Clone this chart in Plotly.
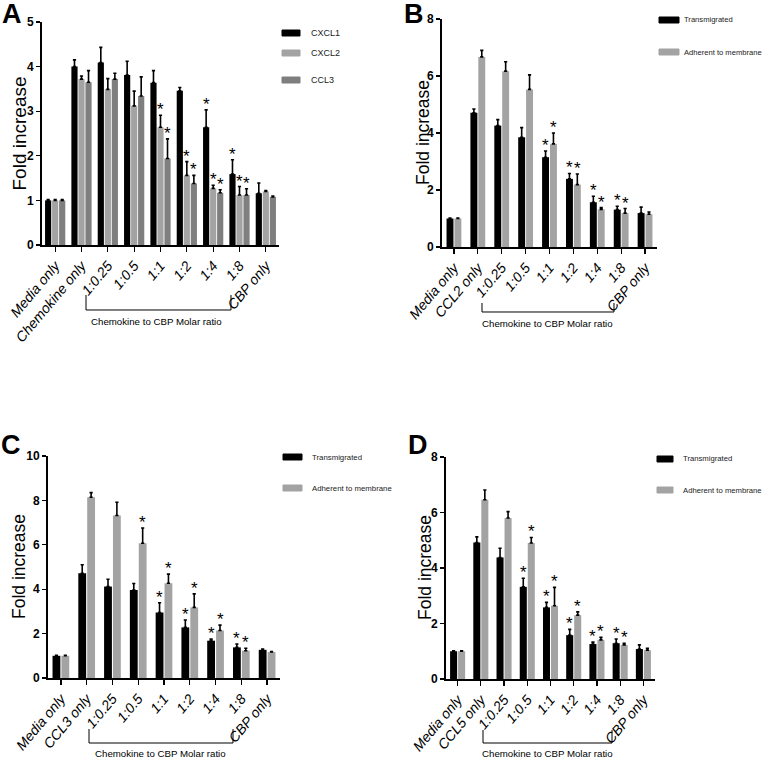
import plotly.graph_objects as go

W, H = 763, 759

# ---------------- data ----------------
ratios = ["1:0.25", "1:0.5", "1:1", "1:2", "1:4", "1:8"]
cats_A = ["Media only", "Chemokine only"] + ratios + ["CBP only"]
cats_B = ["Media only", "CCL2 only"] + ratios + ["CBP only"]
cats_C = ["Media only", "CCL3 only"] + ratios + ["CBP only"]
cats_D = ["Media only", "CCL5 only"] + ratios + ["CBP only"]

A_cxcl1 = [1.0, 4.00, 4.09, 3.81, 3.64, 3.46, 2.64, 1.59, 1.16]
A_cxcl1_err = [0.02, 0.15, 0.34, 0.31, 0.27, 0.07, 0.39, 0.32, 0.23]
A_cxcl1_sig = [0, 0, 0, 0, 0, 0, 1, 1, 0]
A_cxcl2 = [1.0, 3.72, 3.49, 3.12, 2.64, 1.56, 1.27, 1.12, 1.20]
A_cxcl2_err = [0.02, 0.07, 0.24, 0.33, 0.27, 0.31, 0.07, 0.19, 0.02]
A_cxcl2_sig = [0, 0, 0, 0, 1, 1, 1, 1, 0]
A_ccl3 = [1.0, 3.65, 3.72, 3.34, 1.94, 1.38, 1.17, 1.12, 1.08]
A_ccl3_err = [0.02, 0.26, 0.13, 0.43, 0.44, 0.18, 0.07, 0.14, 0.02]
A_ccl3_sig = [0, 0, 0, 0, 1, 1, 1, 1, 0]

B_trans = [1.0, 4.71, 4.26, 3.85, 3.15, 2.39, 1.57, 1.31, 1.19]
B_trans_err = [0.02, 0.13, 0.21, 0.34, 0.22, 0.19, 0.21, 0.12, 0.21]
B_trans_sig = [0, 0, 0, 0, 1, 1, 1, 1, 0]
B_adh = [1.0, 6.67, 6.17, 5.53, 3.62, 2.19, 1.32, 1.19, 1.15]
B_adh_err = [0.02, 0.23, 0.33, 0.51, 0.38, 0.37, 0.06, 0.16, 0.08]
B_adh_sig = [0, 0, 0, 0, 1, 1, 1, 1, 0]

C_trans = [1.0, 4.72, 4.12, 3.96, 2.95, 2.28, 1.68, 1.38, 1.27]
C_trans_err = [0.02, 0.38, 0.33, 0.30, 0.44, 0.33, 0.07, 0.15, 0.03]
C_trans_sig = [0, 0, 0, 0, 1, 1, 1, 1, 0]
C_adh = [1.0, 8.14, 7.32, 6.07, 4.27, 3.18, 2.14, 1.23, 1.17]
C_adh_err = [0.02, 0.21, 0.60, 0.69, 0.41, 0.61, 0.24, 0.11, 0.02]
C_adh_sig = [0, 0, 0, 1, 1, 1, 1, 1, 0]

D_trans = [1.0, 4.92, 4.38, 3.32, 2.58, 1.58, 1.26, 1.29, 1.08]
D_trans_err = [0.02, 0.20, 0.33, 0.31, 0.18, 0.21, 0.07, 0.15, 0.15]
D_trans_sig = [0, 0, 0, 1, 1, 1, 1, 1, 0]
D_adh = [1.0, 6.46, 5.80, 4.90, 2.64, 2.30, 1.41, 1.23, 1.04]
D_adh_err = [0.02, 0.35, 0.23, 0.20, 0.66, 0.12, 0.09, 0.06, 0.07]
D_adh_sig = [0, 0, 0, 1, 1, 1, 1, 1, 0]

A_names = ["CXCL1", "CXCL2", "CCL3"]
pair_names = ["Transmigrated", "Adherent to membrane"]
bracket_label = "Chemokine to CBP Molar ratio"
y_title = "Fold increase"

# ---------------- styling ----------------
BLACK = "#000000"
GRAY2 = "#a3a3a3"
GRAY3 = "#7f7f7f"
SANS = "Liberation Sans, Arial, sans-serif"


def px_x(p):
    return p / W


def px_y(p):
    return 1 - p / H


fig = go.Figure()
annotations = []
shapes = []

panels = [
    dict(ax="", cats=cats_A, series=[(A_cxcl1, A_cxcl1_err, A_cxcl1_sig, BLACK),
                                     (A_cxcl2, A_cxcl2_err, A_cxcl2_sig, GRAY2),
                                     (A_ccl3, A_ccl3_err, A_ccl3_sig, GRAY3)],
         names=A_names, gap=0.2, x=(42, 279), y=(22, 245), yr=5, dt=1,
         letter=("A", 12, 14), ytitle=(19, 19), legsize=9,
         leg=[(282, 300, 33, 309), (282, 300, 53, 309), (282, 300, 80, 309)],
         bracket=(86, 231, 295, 310), blabel=(156, 321)),
    dict(ax="2", cats=cats_B, series=[(B_trans, B_trans_err, B_trans_sig, BLACK),
                                      (B_adh, B_adh_err, B_adh_sig, GRAY2)],
         names=pair_names, gap=0.34, x=(442, 657), y=(19, 247), yr=8, dt=2,
         letter=("B", 414, 14), ytitle=(423, 17.5), legsize=7.6,
         leg=[(659, 679, 20, 682), (659, 679, 52, 682)],
         bracket=(482, 614, 303, 312), blabel=(547, 323)),
    dict(ax="3", cats=cats_C, series=[(C_trans, C_trans_err, C_trans_sig, BLACK),
                                      (C_adh, C_adh_err, C_adh_sig, GRAY2)],
         names=pair_names, gap=0.31, x=(48, 280), y=(456, 678), yr=10, dt=2,
         letter=("C", 11, 445), ytitle=(19, 17.5), legsize=7.8,
         leg=[(283, 302, 457, 310), (283, 302, 488, 310)],
         bracket=(89, 233, 729, 743), blabel=(160, 753)),
    dict(ax="4", cats=cats_D, series=[(D_trans, D_trans_err, D_trans_sig, BLACK),
                                      (D_adh, D_adh_err, D_adh_sig, GRAY2)],
         names=pair_names, gap=0.31, x=(446, 655), y=(457, 679), yr=8, dt=2,
         letter=("D", 418, 445), ytitle=(425, 17.5), legsize=7.7,
         leg=[(657, 673, 459, 681), (657, 673, 490, 681)],
         bracket=(483, 612, 730, 743), blabel=(547, 753)),
]

layout_axes = {}
for p in panels:
    n = len(p["series"])
    G = 1 - p["gap"]
    slot = G / n
    w = slot * 0.88
    xa = "x" + p["ax"]
    ya = "y" + p["ax"]
    for k, (vals, errs, sig, col) in enumerate(p["series"]):
        off = -G / 2 + k * slot + (slot - w) / 2
        fig.add_trace(go.Bar(
            x=p["cats"], y=vals, xaxis=xa, yaxis=ya,
            width=w, offset=off, marker=dict(color=col, line=dict(width=0)),
            error_y=dict(type="data", symmetric=False, array=errs,
                         arrayminus=[0] * len(errs), color=BLACK,
                         thickness=1.6, width=1.6),
            showlegend=False, name=p["names"][k], hoverinfo="skip"))
        for i, s in enumerate(sig):
            if s:
                annotations.append(dict(
                    x=i + off + w / 2, y=vals[i] + errs[i], xref=xa, yref=ya,
                    text="*", showarrow=False, yanchor="bottom", xanchor="center",
                    yshift=-6, font=dict(family=SANS, size=17, color=BLACK)))
    sfx = p["ax"]
    layout_axes["xaxis" + sfx] = dict(
        domain=[px_x(p["x"][0]), px_x(p["x"][1])], anchor=ya,
        type="category", categoryorder="array", categoryarray=p["cats"],
        range=[-0.5, len(p["cats"]) - 0.5], automargin=False,
        showline=True, linewidth=2, linecolor=BLACK, ticks="outside",
        ticklen=5, tickwidth=1.3, tickcolor=BLACK, tickangle=-50,
        tickfont=dict(family=SANS, size=14, color=BLACK, style="italic"),
        showgrid=False, zeroline=False, fixedrange=True)
    layout_axes["yaxis" + sfx] = dict(
        domain=[px_y(p["y"][1]), px_y(p["y"][0])], anchor=xa,
        range=[0, p["yr"]], dtick=p["dt"], tick0=0, automargin=False,
        showline=True, linewidth=2, linecolor=BLACK, ticks="outside",
        ticklen=4, tickwidth=1.3, tickcolor=BLACK,
        tickfont=dict(family=SANS, size=12, color=BLACK, weight="bold"),
        showgrid=False, zeroline=False, fixedrange=True)
    annotations.append(dict(
        x=px_x(p["ytitle"][0]), y=(px_y(p["y"][0]) + px_y(p["y"][1])) / 2,
        xref="paper", yref="paper", text=y_title, textangle=-90,
        showarrow=False, xanchor="center", yanchor="middle",
        font=dict(family=SANS, size=p["ytitle"][1], color=BLACK)))
    annotations.append(dict(
        x=px_x(p["letter"][1]), y=px_y(p["letter"][2]), xref="paper", yref="paper",
        text="<b>%s</b>" % p["letter"][0], showarrow=False,
        xanchor="center", yanchor="middle",
        font=dict(family=SANS, size=27, color=BLACK)))
    for k, (x0, x1, yc, tx) in enumerate(p["leg"]):
        col = p["series"][k][3]
        shapes.append(dict(type="rect", xref="paper", yref="paper",
                           x0=px_x(x0), x1=px_x(x1), y0=px_y(yc + 3), y1=px_y(yc - 3),
                           fillcolor=col, line=dict(color=col, width=1)))
        annotations.append(dict(
            x=px_x(tx), y=px_y(yc), xref="paper", yref="paper", text=p["names"][k],
            showarrow=False, xanchor="left", yanchor="middle",
            font=dict(family=SANS, size=p["legsize"], color="#222222")))
    bx0, bx1, by0, by1 = p["bracket"]
    shapes.append(dict(type="path", xref="paper", yref="paper",
                       path="M %f %f L %f %f L %f %f L %f %f" % (
                           px_x(bx0), px_y(by0), px_x(bx0), px_y(by1),
                           px_x(bx1), px_y(by1), px_x(bx1), px_y(by0)),
                       line=dict(color=BLACK, width=1)))
    annotations.append(dict(
        x=px_x(p["blabel"][0]), y=px_y(p["blabel"][1]), xref="paper", yref="paper",
        text=bracket_label, showarrow=False, xanchor="center", yanchor="middle",
        font=dict(family=SANS, size=9.7, color=BLACK)))

fig.update_layout(
    template="none",
    width=W, height=H, margin=dict(l=0, r=0, t=0, b=0, autoexpand=False),
    paper_bgcolor="white", plot_bgcolor="white",
    barmode="overlay", showlegend=False, hovermode=False,
    annotations=annotations, shapes=shapes, **layout_axes)

fig.write_html("out.html",
               config={"displayModeBar": False, "staticPlot": True},
               post_script="document.body.style.margin='0px';"
                           "document.body.style.overflow='hidden';")
